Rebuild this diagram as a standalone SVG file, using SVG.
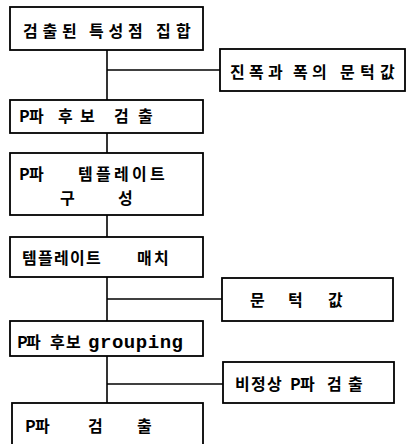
<svg xmlns="http://www.w3.org/2000/svg" width="407" height="444" viewBox="0 0 407 444">
<style>
.box{fill:#fff;stroke:#000;stroke-width:1.8}
.ln{stroke:#000;stroke-width:1.6;fill:none}
text{font-family:"Noto Sans CJK KR","DejaVu Sans",sans-serif;font-size:16px;font-weight:bold;fill:#000}
.lat{font-family:"Liberation Mono",monospace;font-size:19px;font-weight:bold}
</style>
<rect width="407" height="444" fill="#fff"/>
<g id="connectors">
<line class="ln" x1="107" y1="50" x2="107" y2="100"/>
<line class="ln" x1="107" y1="70" x2="220" y2="70"/>
<line class="ln" x1="107" y1="133" x2="107" y2="153"/>
<line class="ln" x1="107" y1="215" x2="107" y2="237"/>
<line class="ln" x1="107" y1="277" x2="107" y2="321"/>
<line class="ln" x1="107" y1="299" x2="222" y2="299"/>
<line class="ln" x1="107" y1="356" x2="107" y2="403"/>
<line class="ln" x1="107" y1="384" x2="223" y2="384"/>
</g>
<g id="n1">
<rect class="box" x="10" y="7" width="193" height="43"/>
<text x="23 42.5 62 78 89 108.5 128 144 156 176" y="37">검출된 특성점 집합</text>
</g>
<g id="n1side">
<rect class="box" x="220" y="49" width="185" height="42"/>
<text x="230 249 268 284 293 312 328 340 360 380" y="78">진폭과 폭의 문턱값</text>
</g>
<g id="n2">
<rect class="box" x="10" y="100" width="193" height="33"/>
<text x="19 29 46 58 80 100 114 138" y="122">P파 후보 검출</text>
</g>
<g id="n3">
<rect class="box" x="10" y="153" width="193" height="62"/>
<text x="19 29 46 78 96 114 132 150" y="180">P파 템플레이트</text>
<text x="60 90 118" y="204">구 성</text>
</g>
<g id="n4">
<rect class="box" x="10" y="237" width="193" height="40"/>
<text x="22 38 54 70 86 112 137 154" y="264">템플레이트 매치</text>
</g>
<g id="n4side">
<rect class="box" x="222" y="278" width="171" height="43"/>
<text x="250 270 288 310 328" y="306">문 턱 값</text>
</g>
<g id="n5">
<rect class="box" x="10" y="321" width="193" height="35"/>
<text x="17 26 44 50 66 84" y="348">P파 후보 <tspan class="lat" x="88" textLength="95" lengthAdjust="spacing">grouping</tspan></text>
</g>
<g id="n5side">
<rect class="box" x="223" y="362" width="171" height="41"/>
<text x="235 251 267 283 290 300 317 327 348" y="390">비정상 P파 검출</text>
</g>
<g id="n6">
<rect class="box" x="12" y="403" width="191" height="50"/>
<text x="25 35 60 88 115 137" y="432">P파 검 출</text>
</g>
</svg>
